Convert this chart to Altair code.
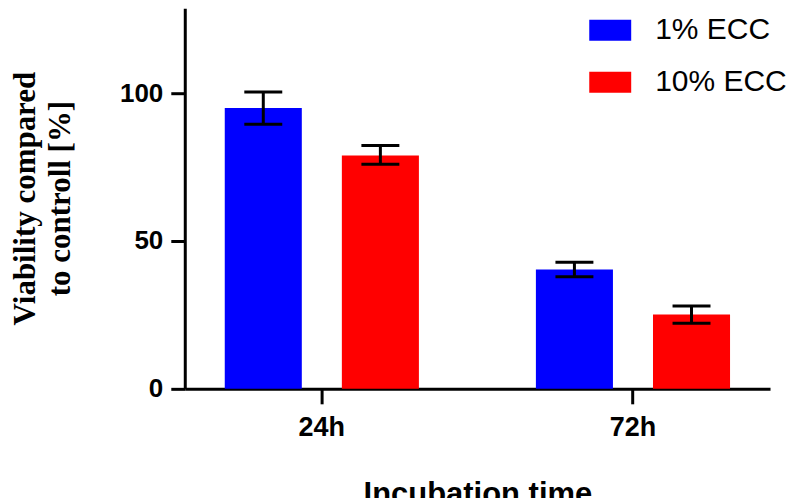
import altair as alt
import pandas as pd

times = ["24h", "24h", "72h", "72h"]
groups = ["1% ECC", "10% ECC", "1% ECC", "10% ECC"]
means = [95.0, 78.9, 40.4, 25.1]
err_lo = [89.5, 76.0, 37.9, 22.2]
err_hi = [100.4, 82.3, 42.8, 28.0]

group_order = ["1% ECC", "10% ECC"]
colors = ["#0000FF", "#FF0000"]

df = pd.DataFrame({"time": times, "group": groups, "mean": means, "lo": err_lo, "hi": err_hi})

x_enc = alt.X("time:N", scale=alt.Scale(paddingInner=0.3, paddingOuter=0.0905),
              axis=alt.Axis(title="Incubation time", labelAngle=0, domainWidth=3, domainColor="black",
                            tickWidth=3, tickSize=15, tickColor="black", labelFont="Liberation Sans",
                            labelFontWeight="bold", labelFontSize=27, labelColor="black", labelPadding=11,
                            titleFont="Liberation Sans", titleFontWeight="bold", titleFontSize=31,
                            titleColor="black", titleBaseline="alphabetic", titleY=115, titleX=293,
                            titleAlign="center"))
xoff = alt.XOffset("group:N", sort=group_order,
                   scale=alt.Scale(paddingInner=0.342, paddingOuter=0.101))

y_scale = alt.Scale(domain=[0, 128.7], nice=False, zero=True)

bars = alt.Chart(df).mark_bar().encode(
    x=x_enc,
    xOffset=xoff,
    y=alt.Y("mean:Q", scale=y_scale,
            axis=alt.Axis(values=[0, 50, 100], title=["Viability compared", "to controll [%]"],
                          grid=False, domainWidth=3, domainColor="black", tickWidth=3, tickSize=14,
                          tickColor="black", labelFont="Liberation Sans", labelFontWeight="bold",
                          labelFontSize=26, labelColor="black", labelPadding=8,
                          titleFont="Liberation Serif", titleFontWeight="bold", titleFontSize=31,
                          titleColor="black", titleAngle=270, titleAlign="center",
                          titleBaseline="alphabetic", titleX=-150, titleY=190, titleLineHeight=35)),
    color=alt.Color("group:N", sort=group_order,
                    scale=alt.Scale(domain=group_order, range=colors),
                    legend=alt.Legend(title=None, orient="none", legendX=405, legendY=1,
                                      symbolType="M-1,-0.5H1V0.5H-1Z", symbolSize=1764,
                                      symbolStrokeWidth=0, symbolOpacity=1,
                                      labelFont="Liberation Sans", labelFontSize=30,
                                      labelColor="black", labelOffset=24, rowPadding=16,
                                      padding=0, labelLimit=300)),
)

rules = alt.Chart(df).mark_rule(color="black", strokeWidth=3).encode(
    x="time:N", xOffset=alt.XOffset("group:N", sort=group_order),
    y=alt.Y("lo:Q"), y2="hi:Q",
)

caps_hi = alt.Chart(df).mark_tick(color="black", thickness=3, size=38, opacity=1).encode(
    x="time:N", xOffset=alt.XOffset("group:N", sort=group_order), y="hi:Q",
)
caps_lo = alt.Chart(df).mark_tick(color="black", thickness=3, size=38, opacity=1).encode(
    x="time:N", xOffset=alt.XOffset("group:N", sort=group_order), y="lo:Q",
)

chart = alt.layer(bars, rules, caps_hi, caps_lo).properties(
    width=586, height=381,
    autosize=alt.AutoSizeParams(type="none"),
    padding={"left": 177, "top": 0, "right": 20, "bottom": 120},
).configure_view(stroke=None).configure_axis(grid=False)

chart.save("out.html", embed_options={"renderer": "svg", "actions": False})
